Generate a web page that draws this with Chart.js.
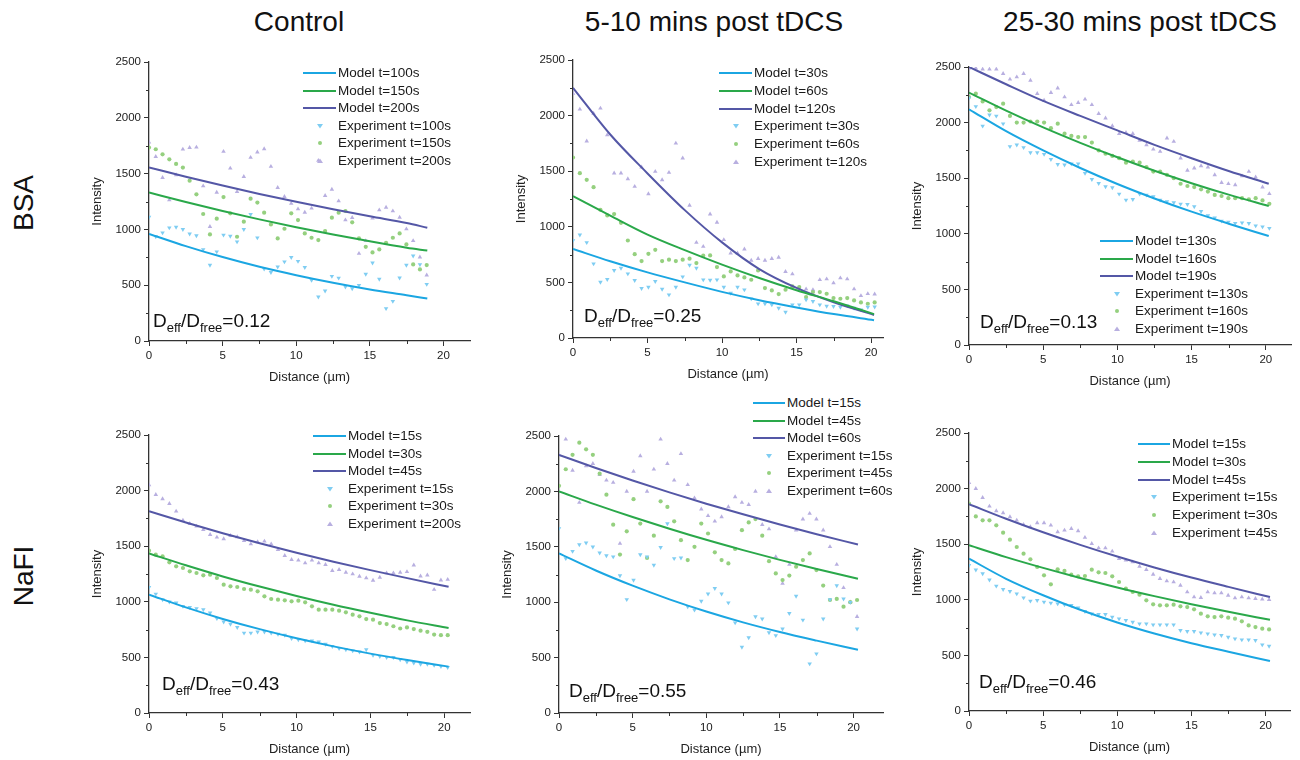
<!DOCTYPE html>
<html>
<head>
<meta charset="utf-8">
<script src="https://cdn.jsdelivr.net/npm/chart.js@4.4.1/dist/chart.umd.min.js"></script>
<style>
body { margin:0; background:#fff; width:1300px; height:760px; position:relative; overflow:hidden;
       font-family:"Liberation Sans", Arial, sans-serif; color:#111; }
canvas { position:absolute; }
.col { position:absolute; top:8px; font-size:28px; line-height:28px; white-space:nowrap; transform:translateX(-50%); }
.row { position:absolute; font-size:28px; line-height:28px; white-space:nowrap; transform:translate(-50%,-50%) rotate(-90deg); }
.leg { position:absolute; font-size:13.5px; line-height:14px; white-space:nowrap; color:#1a1a1a; }
.swatch { position:absolute; height:0; border-top:2px solid; }
.mark { position:absolute; line-height:0; }
.mark svg { display:block; }
.deff { position:absolute; font-size:19px; line-height:19px; white-space:nowrap; color:#111; }
.deff sub { font-size:13px; vertical-align:baseline; position:relative; top:5px; }
</style>
</head>
<body>
<div class="col" style="left:299px">Control</div>
<div class="col" style="left:714px">5-10 mins post tDCS</div>
<div class="col" style="left:1140px">25-30 mins post tDCS</div>
<div class="row" style="left:24px; top:203px">BSA</div>
<div class="row" style="left:24px; top:576px">NaFI</div>
<script>
// sampling positions of the measured profiles (µm)
const dist42 = [0, 0.46, 0.92, 1.38, 1.84, 2.3, 2.76, 3.22, 3.68, 4.14, 4.6, 5.06, 5.52, 5.98, 6.44, 6.9, 7.36, 7.82, 8.28, 8.74,
  9.2, 9.66, 10.12, 10.58, 11.04, 11.5, 11.96, 12.42, 12.88, 13.34, 13.8, 14.26, 14.72, 15.18, 15.64, 16.1, 16.56, 17.02, 17.48, 17.94,
  18.4, 18.86];
const dist45 = [0, 0.46, 0.92, 1.38, 1.84, 2.3, 2.76, 3.22, 3.68, 4.14, 4.6, 5.06, 5.52, 5.98, 6.44, 6.9, 7.36, 7.82, 8.28, 8.74,
  9.2, 9.66, 10.12, 10.58, 11.04, 11.5, 11.96, 12.42, 12.88, 13.34, 13.8, 14.26, 14.72, 15.18, 15.64, 16.1, 16.56, 17.02, 17.48, 17.94,
  18.4, 18.86, 19.32, 19.78, 20.24];

// model curve sample positions (µm)
const modelX189 = [0, 2.5, 5, 7.5, 10, 12.5, 15, 17.5, 18.9];
const modelX202 = [0, 2.5, 5, 7.5, 10, 12.5, 15, 17.5, 20.2];
const modelX203 = [0, 2.5, 5, 7.5, 10, 12.5, 15, 17.5, 20.3];

// BSA / Control
const bsaCtrlLabels = ['Model t=100s', 'Model t=150s', 'Model t=200s', 'Experiment t=100s', 'Experiment t=150s', 'Experiment t=200s'];
const bsaCtrlModelA = [960, 850, 752, 665, 590, 522, 462, 410, 380];
const bsaCtrlModelB = [1330, 1245, 1165, 1090, 1020, 955, 893, 836, 810];
const bsaCtrlModelC = [1555, 1472, 1393, 1318, 1248, 1181, 1117, 1057, 1015];
const bsaCtrlExpA = [1110, 935, 970, 1015, 1020, 1000, 960, 945, 820, 680, 800, 950, 940, 890, 1000, 1135, 925, 645, 615, 665,
  710, 750, 715, 660, 545, 395, 450, 580, 565, 485, 470, 500, 600, 700, 554, 291, 356, 566, 680, 763, 686, 509];
const bsaCtrlExpB = [1733, 1718, 1673, 1628, 1587, 1554, 1437, 1314, 1138, 955, 1096, 1290, 1144, 934, 1069, 1275, 1240, 1150, 1045, 919,
  1006, 1144, 1084, 964, 925, 904, 985, 1105, 1150, 1165, 1063, 919, 844, 794, 821, 880, 925, 964, 865, 686, 641, 680];
const bsaCtrlExpC = [1781, 1652, 1464, 1263, 1488, 1718, 1733, 1736, 1389, 1024, 1332, 1698, 1548, 1338, 1473, 1644, 1692, 1721, 1563, 1374,
  1293, 1233, 1183, 1153, 1189, 1617, 1302, 1359, 1254, 1084, 1105, 784, 898, 1100, 1174, 1197, 1165, 1108, 1003, 898, 752, 590];

// BSA / 5-10 mins
const bsaEarlyLabels = ['Model t=30s', 'Model t=60s', 'Model t=120s', 'Experiment t=30s', 'Experiment t=60s', 'Experiment t=120s'];
const bsaEarlyModelA = [800, 690, 590, 500, 415, 340, 275, 215, 160];
const bsaEarlyModelB = [1275, 1100, 930, 790, 660, 540, 430, 330, 215];
const bsaEarlyModelC = [2250, 1830, 1480, 1150, 860, 620, 450, 320, 207];
const bsaEarlyExpA = [877, 928, 859, 668, 503, 527, 608, 629, 578, 518, 446, 458, 509, 440, 389, 458, 551, 656, 629, 524,
  521, 524, 458, 404, 458, 434, 353, 308, 308, 299, 269, 233, 299, 299, 344, 329, 299, 287, 284, 278, 290, 269, 254, 278, 280];
const bsaEarlyExpB = [1623, 1482, 1422, 1356, 1153, 1102, 1114, 1036, 877, 754, 692, 757, 793, 692, 704, 692, 704, 713, 674, 740,
  743, 638, 554, 599, 563, 545, 524, 608, 449, 428, 395, 434, 464, 458, 368, 413, 413, 398, 359, 353, 359, 338, 320, 308, 320];
const bsaEarlyExpC = [2200, 2057, 1770, 2020, 2066, 1826, 1482, 1482, 1431, 1362, 1536, 1296, 1497, 1422, 1488, 1751, 1617, 1192, 859, 823,
  1114, 1039, 883, 763, 763, 799, 698, 713, 698, 713, 725, 596, 575, 440, 440, 434, 524, 530, 494, 539, 530, 440, 380, 398, 395];

// BSA / 25-30 mins
const bsaLateLabels = ['Model t=130s', 'Model t=160s', 'Model t=190s', 'Experiment t=130s', 'Experiment t=160s', 'Experiment t=190s'];
const bsaLateModelA = [2120, 1923, 1750, 1592, 1448, 1318, 1199, 1091, 980];
const bsaLateModelB = [2270, 2108, 1957, 1818, 1688, 1567, 1455, 1352, 1250];
const bsaLateModelC = [2500, 2345, 2195, 2060, 1930, 1800, 1680, 1565, 1450];
const bsaLateExpA = [2220, 2145, 1970, 2070, 2060, 1990, 1785, 1800, 1776, 1730, 1730, 1716, 1670, 1625, 1620, 1630, 1629, 1545, 1490, 1454,
  1424, 1415, 1358, 1304, 1310, 1358, 1349, 1334, 1304, 1289, 1280, 1268, 1265, 1244, 1202, 1163, 1145, 1115, 1106, 1094, 1100, 1094, 1073, 1064, 1050];
const bsaLateExpB = [2230, 2260, 2190, 2110, 2140, 2170, 2060, 2000, 2000, 2010, 2010, 2000, 1950, 1990, 1900, 1880, 1870, 1870, 1820, 1750,
  1720, 1700, 1680, 1640, 1650, 1640, 1600, 1560, 1560, 1530, 1500, 1450, 1430, 1420, 1400, 1380, 1350, 1340, 1320, 1320, 1320, 1310, 1320, 1300, 1270];
const bsaLateExpC = [2490, 2490, 2480, 2480, 2480, 2440, 2390, 2410, 2440, 2380, 2260, 2200, 2270, 2310, 2230, 2160, 2180, 2210, 2160, 2080,
  2040, 1970, 1900, 1910, 1900, 1840, 1800, 1760, 1740, 1860, 1830, 1680, 1570, 1590, 1610, 1600, 1530, 1460, 1450, 1440, 1520, 1560, 1510, 1420, 1360];

// NaFI / Control
const nafCtrlLabels = ['Model t=15s', 'Model t=30s', 'Model t=45s', 'Experiment t=15s', 'Experiment t=30s', 'Experiment t=200s'];
const nafCtrlModelA = [1065, 950, 846, 754, 672, 599, 534, 476, 417];
const nafCtrlModelB = [1435, 1328, 1228, 1137, 1052, 973, 901, 833, 765];
const nafCtrlModelC = [1815, 1713, 1617, 1527, 1441, 1361, 1285, 1213, 1135];
const nafCtrlExpA = [1130, 1070, 1020, 1000, 990, 960, 950, 940, 930, 900, 850, 820, 800, 770, 720, 720, 730, 730, 720, 710,
  700, 670, 660, 650, 650, 640, 620, 600, 580, 570, 560, 550, 570, 520, 510, 500, 500, 480, 460, 450, 440, 440, 430, 420, 410];
const nafCtrlExpB = [1460, 1424, 1409, 1355, 1319, 1304, 1274, 1259, 1238, 1244, 1214, 1154, 1139, 1133, 1115, 1109, 1094, 1049, 1025, 1019,
  1013, 1004, 1010, 995, 959, 929, 929, 929, 920, 905, 884, 869, 845, 839, 809, 800, 780, 760, 770, 755, 740, 730, 705, 700, 700];
const nafCtrlExpC = [2051, 1964, 1925, 1883, 1814, 1733, 1703, 1679, 1649, 1604, 1580, 1565, 1595, 1583, 1550, 1520, 1538, 1544, 1520, 1469,
  1415, 1379, 1373, 1349, 1373, 1349, 1334, 1280, 1289, 1265, 1250, 1229, 1214, 1193, 1220, 1259, 1259, 1265, 1270, 1330, 1230, 1240, 1110, 1195, 1200];

// NaFI / 5-10 mins
const nafEarlyLabels = ['Model t=15s', 'Model t=45s', 'Model t=60s', 'Experiment t=15s', 'Experiment t=45s', 'Experiment t=60s'];
const nafEarlyModelA = [1440, 1286, 1149, 1026, 916, 818, 731, 653, 570];
const nafEarlyModelB = [2000, 1881, 1769, 1663, 1563, 1470, 1382, 1299, 1212];
const nafEarlyModelC = [2330, 2211, 2098, 1991, 1889, 1793, 1701, 1614, 1520];
const nafEarlyExpA = [1665, 1395, 1460, 1520, 1535, 1500, 1445, 1420, 1410, 1240, 1025, 1200, 1430, 1410, 1335, 1495, 1710, 1395, 1400, 960,
  930, 1010, 1075, 1125, 1075, 995, 815, 595, 680, 870, 850, 725, 700, 760, 900, 1055, 840, 445, 535, 850, 1025, 1150, 1030, 1000, 760];
const nafEarlyExpB = [2050, 2200, 2330, 2440, 2380, 2330, 2160, 1970, 1700, 1430, 1640, 1930, 1710, 1400, 1600, 1910, 1860, 1730, 1560, 1380,
  1500, 1710, 1620, 1450, 1380, 1350, 1480, 1650, 1720, 1750, 1600, 1370, 1260, 1200, 1240, 1320, 1380, 1440, 1290, 1150, 1020, 1030, 960, 1000, 1020];
const nafEarlyExpC = [2330, 2470, 2190, 1900, 2230, 2250, 2150, 2100, 2080, 1530, 2000, 2180, 2320, 2000, 2200, 2470, 2250, 2100, 2340, 2060,
  1940, 1840, 1780, 1730, 1770, 1860, 1950, 1900, 1880, 2000, 1700, 1660, 1410, 1170, 1340, 1650, 1750, 1800, 1750, 1650, 1500, 1340, 1130, 1000, 870];

// NaFI / 25-30 mins
const nafLateLabels = ['Model t=15s', 'Model t=30s', 'Model t=45s', 'Experiment t=15s', 'Experiment t=30s', 'Experiment t=45s'];
const nafLateModelA = [1370, 1189, 1041, 910, 796, 697, 610, 533, 450];
const nafLateModelB = [1490, 1384, 1287, 1196, 1111, 1033, 960, 892, 820];
const nafLateModelC = [1860, 1729, 1607, 1494, 1389, 1291, 1200, 1116, 1025];
const nafLateExpA = [1310, 1270, 1235, 1180, 1124, 1094, 1076, 1055, 1019, 989, 995, 980, 971, 965, 956, 950, 929, 896, 875, 869,
  869, 845, 830, 815, 800, 785, 785, 776, 776, 776, 776, 725, 716, 716, 704, 695, 686, 680, 665, 650, 641, 641, 635, 596, 584];
const nafLateExpB = [1865, 1750, 1715, 1715, 1670, 1604, 1541, 1475, 1415, 1364, 1295, 1220, 1139, 1274, 1260, 1226, 1211, 1214, 1271, 1247,
  1241, 1211, 1160, 1100, 1070, 1046, 995, 959, 950, 950, 956, 941, 935, 914, 875, 851, 845, 851, 839, 830, 806, 770, 755, 740, 734];
const nafLateExpC = [2053, 2000, 1919, 1841, 1799, 1781, 1745, 1715, 1676, 1655, 1691, 1691, 1670, 1610, 1625, 1640, 1619, 1560, 1505, 1466,
  1466, 1436, 1370, 1355, 1340, 1300, 1271, 1229, 1190, 1169, 1160, 1130, 1070, 1025, 1019, 1070, 1061, 1061, 1040, 1016, 1025, 1016, 1010, 1005, 1001];

const yTicksMax = 2500;

const lineColors = ['#1ba6e2', '#2aa84a', '#5457a6'];
const pointColors = ['#7fcdf2', '#95d07f', '#b8afe0'];
const pointShapes = [['triangle', 180], ['circle', 0], ['triangle', 0]];

const panels = [
  { geo: {L: 149, T: 62, B: 341, R: 470, xMax: 21.8}, mx: modelX189, ex: dist42,
    models: [bsaCtrlModelA, bsaCtrlModelB, bsaCtrlModelC], exps: [bsaCtrlExpA, bsaCtrlExpB, bsaCtrlExpC], labels: bsaCtrlLabels,
    legend: {lineX: 303, textX: 338, y0: 73, dy: 17.6}, deff: {value: '0.12', left: 153, base: 327} },
  { geo: {L: 573, T: 60, B: 338, R: 883, xMax: 20.8}, mx: modelX202, ex: dist45,
    models: [bsaEarlyModelA, bsaEarlyModelB, bsaEarlyModelC], exps: [bsaEarlyExpA, bsaEarlyExpB, bsaEarlyExpC], labels: bsaEarlyLabels,
    legend: {lineX: 719, textX: 754, y0: 73, dy: 17.8}, deff: {value: '0.25', left: 584, base: 322} },
  { geo: {L: 969, T: 67, B: 345, R: 1291, xMax: 21.7}, mx: modelX202, ex: dist45,
    models: [bsaLateModelA, bsaLateModelB, bsaLateModelC], exps: [bsaLateExpA, bsaLateExpB, bsaLateExpC], labels: bsaLateLabels,
    legend: {lineX: 1100, textX: 1135, y0: 241, dy: 17.6}, deff: {value: '0.13', left: 980, base: 328} },
  { geo: {L: 149, T: 435, B: 713, R: 470, xMax: 21.75}, mx: modelX203, ex: dist45,
    models: [nafCtrlModelA, nafCtrlModelB, nafCtrlModelC], exps: [nafCtrlExpA, nafCtrlExpB, nafCtrlExpC], labels: nafCtrlLabels,
    legend: {lineX: 313, textX: 348, y0: 436, dy: 17.5}, deff: {value: '0.43', left: 162, base: 690} },
  { geo: {L: 559, T: 436, B: 713, R: 883, xMax: 22}, mx: modelX203, ex: dist45,
    models: [nafEarlyModelA, nafEarlyModelB, nafEarlyModelC], exps: [nafEarlyExpA, nafEarlyExpB, nafEarlyExpC], labels: nafEarlyLabels,
    legend: {lineX: 753, textX: 787, y0: 403, dy: 17.6}, deff: {value: '0.55', left: 569, base: 697} },
  { geo: {L: 969, T: 433, B: 711, R: 1290, xMax: 21.65}, mx: modelX203, ex: dist45,
    models: [nafLateModelA, nafLateModelB, nafLateModelC], exps: [nafLateExpA, nafLateExpB, nafLateExpC], labels: nafLateLabels,
    legend: {lineX: 1138, textX: 1172, y0: 444, dy: 17.8}, deff: {value: '0.46', left: 979, base: 688} }
];

Chart.defaults.font.family = '"Liberation Sans", Arial, sans-serif';
Chart.defaults.color = '#222';

// short ticks halfway between the labelled ones
const minorTicks = {
  id: 'minorTicks',
  afterDraw(chart) {
    const ctx = chart.ctx;
    const xs = chart.scales.x, ys = chart.scales.y;
    ctx.save();
    ctx.strokeStyle = '#333';
    ctx.lineWidth = 1;
    ctx.beginPath();
    const xt = xs.ticks.map(t => t.value);
    for (let i = 0; i < xt.length - 1; i++) {
      const p = Math.round(xs.getPixelForValue((xt[i] + xt[i + 1]) / 2)) + 0.5;
      ctx.moveTo(p, xs.top); ctx.lineTo(p, xs.top + 3);
    }
    const yt = ys.ticks.map(t => t.value);
    for (let i = 0; i < yt.length - 1; i++) {
      const p = Math.round(ys.getPixelForValue((yt[i] + yt[i + 1]) / 2)) + 0.5;
      ctx.moveTo(ys.right, p); ctx.lineTo(ys.right - 3, p);
    }
    ctx.stroke();
    ctx.restore();
  }
};

function marker(i) {
  const c = pointColors[i];
  if (i === 1) return `<svg width="6" height="6"><circle cx="3" cy="3" r="2" fill="${c}"/></svg>`;
  if (i === 0) return `<svg width="6" height="6"><polygon points="0,1 6,1 3,5.5" fill="${c}"/></svg>`;
  return `<svg width="6" height="6"><polygon points="0,5 6,5 3,0.5" fill="${c}"/></svg>`;
}

function addHtml(p) {
  const lg = p.legend;
  p.labels.forEach((txt, k) => {
    const cy = lg.y0 + k * lg.dy;
    const t = document.createElement('div');
    t.className = 'leg';
    t.style.left = lg.textX + 'px';
    t.style.top = (cy - 7) + 'px';
    t.textContent = txt;
    document.body.appendChild(t);
    if (k < 3) {
      const s = document.createElement('div');
      s.className = 'swatch';
      s.style.left = lg.lineX + 'px';
      s.style.width = (lg.textX - lg.lineX - 2) + 'px';
      s.style.top = (cy - 1) + 'px';
      s.style.borderColor = lineColors[k];
      document.body.appendChild(s);
    } else {
      const m = document.createElement('div');
      m.className = 'mark';
      m.style.left = (lg.lineX + (lg.textX - lg.lineX) / 2 - 4) + 'px';
      m.style.top = (cy - 3) + 'px';
      m.innerHTML = marker(k - 3);
      document.body.appendChild(m);
    }
  });
  const d = document.createElement('div');
  d.className = 'deff';
  d.style.left = p.deff.left + 'px';
  d.style.top = (p.deff.base - 16) + 'px';
  d.innerHTML = 'D<sub>eff</sub>/D<sub>free</sub>=' + p.deff.value;
  document.body.appendChild(d);
}

const padTop = 12, padRight = 8, yAxisW = 63, xAxisH = 48;

panels.forEach(p => {
  const g = p.geo;
  const cv = document.createElement('canvas');
  const w = (g.R - g.L) + yAxisW + padRight;
  const h = (g.B - g.T) + padTop + xAxisH;
  cv.width = w; cv.height = h;
  cv.style.left = (g.L - yAxisW) + 'px';
  cv.style.top = (g.T - padTop) + 'px';
  cv.style.width = w + 'px';
  cv.style.height = h + 'px';
  document.body.appendChild(cv);

  const datasets = [];
  p.models.forEach((m, i) => datasets.push({
    label: p.labels[i],
    data: p.mx.map((x, j) => ({x: x, y: m[j]})),
    showLine: true,
    borderColor: lineColors[i],
    borderWidth: 2,
    pointRadius: 0,
    cubicInterpolationMode: 'monotone'
  }));
  p.exps.forEach((e, i) => datasets.push({
    label: p.labels[i + 3],
    data: p.ex.map((x, j) => ({x: x, y: e[j]})),
    showLine: false,
    pointStyle: pointShapes[i][0],
    rotation: pointShapes[i][1],
    pointRadius: i === 1 ? 2.1 : 2.6,
    backgroundColor: pointColors[i],
    borderWidth: 0
  }));

  const axisCommon = {
    grid: {drawOnChartArea: false, drawTicks: true, tickLength: 5, color: '#333', tickColor: '#333'},
    border: {display: true, color: '#333', width: 1.3},
    ticks: {font: {size: 11.5}, color: '#222', padding: 3, callback: v => String(v)}
  };

  new Chart(cv.getContext('2d'), {
    type: 'scatter',
    data: {datasets: datasets},
    options: {
      responsive: false,
      animation: false,
      events: [],
      layout: {padding: {top: padTop, right: padRight, left: 0, bottom: 0}},
      plugins: {legend: {display: false}, tooltip: {enabled: false}},
      scales: {
        x: Object.assign({}, axisCommon, {
          type: 'linear', min: 0, max: g.xMax,
          ticks: Object.assign({}, axisCommon.ticks, {stepSize: 5, includeBounds: false, maxRotation: 0}),
          title: {display: true, text: 'Distance (µm)', font: {size: 13}, color: '#222', padding: {top: 4, bottom: 4}},
          afterFit: s => { s.height = xAxisH; }
        }),
        y: Object.assign({}, axisCommon, {
          type: 'linear', min: 0, max: yTicksMax,
          ticks: Object.assign({}, axisCommon.ticks, {stepSize: 500, includeBounds: false}),
          title: {display: true, text: 'Intensity', font: {size: 13}, color: '#222', padding: {top: 4, bottom: 4}},
          afterFit: s => { s.width = yAxisW; }
        })
      }
    },
    plugins: [minorTicks]
  });

  addHtml(p);
});
</script>
</body>
</html>
